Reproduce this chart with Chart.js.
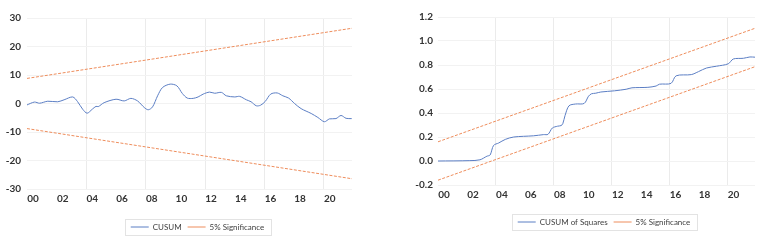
<!DOCTYPE html>
<html>
<head>
<meta charset="utf-8">
<script src="https://cdn.jsdelivr.net/npm/chart.js@4.4.1/dist/chart.umd.min.js"></script>
<style>
  body { margin: 0; background: #fff; }
  .box { position: absolute; top: 0; width: 380px; height: 244px; }
</style>
</head>
<body>
<div class="box" style="left:0"><canvas id="cusum" width="380" height="244"></canvas></div>
<div class="box" style="left:380px"><canvas id="cusumsq" width="380" height="244"></canvas></div>
<script>
// x axis: years, labelled every 2 years as "00", "02", ...
var firstYear = 2000;
var lastYear = 2021.9;
var yearStep = 2;

// CUSUM (left)
var cusumYears = [2000.0, 2000.5, 2000.85, 2001.4, 2002.07, 2002.5, 2003.08, 2003.4, 2003.75, 2004.05,
  2004.4, 2004.65, 2004.8, 2005.2, 2006.0, 2006.55, 2007.0, 2007.45, 2007.9, 2008.17,
  2008.46, 2008.8, 2009.13, 2009.65, 2010.1, 2010.47, 2010.8, 2011.2, 2011.53, 2011.87,
  2012.3, 2012.65, 2013.1, 2013.43, 2014.0, 2014.33, 2014.78, 2015.1, 2015.45, 2015.74,
  2016.05, 2016.42, 2016.86, 2017.24, 2017.63, 2018.03, 2018.47, 2019.15, 2019.6, 2020.04,
  2020.38, 2020.82, 2021.16, 2021.5, 2021.88];
var cusumValues = [-0.5, 0.5, 0.1, 0.8, 0.6, 1.3, 2.3, 0.7, -2.0, -3.4,
  -2.0, -1.0, -1.1, 0.3, 1.5, 0.9, 1.8, 0.9, -1.4, -2.2,
  -1.2, 2.7, 5.6, 6.8, 6.2, 3.5, 1.9, 1.8, 2.3, 3.3,
  4.0, 3.6, 3.9, 2.7, 2.3, 2.5, 1.3, 0.6, -0.8, -0.6,
  0.7, 3.3, 3.7, 2.7, 1.9, 0.0, -1.8, -3.5, -4.9, -6.4,
  -5.4, -5.3, -4.2, -5.2, -5.3];
var cusumBoundYears = [2000, 2021.9];
var cusumUpper = [8.8, 26.4];
var cusumLower = [-8.8, -26.4];
var cusumTicks = [-30, 30, 10];

// CUSUM of squares (right)
var sqYears = [2000.0, 2002.2, 2002.9, 2003.38, 2003.6, 2003.84, 2004.19, 2004.65, 2005.23, 2006.6,
  2007.3, 2007.6, 2007.9, 2008.26, 2008.5, 2008.62, 2008.78, 2009.05, 2009.5, 2010.1,
  2010.4, 2010.6, 2010.9, 2011.25, 2012.2, 2013.0, 2013.4, 2014.5, 2015.07, 2015.3,
  2016.1, 2016.45, 2017.5, 2018.0, 2018.55, 2019.25, 2020.05, 2020.4, 2021.1, 2021.55, 2021.9];
var sqValues = [0.0, 0.003, 0.01, 0.04, 0.05, 0.13, 0.15, 0.18, 0.2, 0.21,
  0.22, 0.222, 0.275, 0.29, 0.295, 0.31, 0.38, 0.46, 0.475, 0.48,
  0.54, 0.56, 0.565, 0.575, 0.585, 0.598, 0.61, 0.614, 0.625, 0.64,
  0.647, 0.71, 0.72, 0.745, 0.775, 0.79, 0.81, 0.85, 0.856, 0.867, 0.865];
var sqBoundYears = [2000, 2021.9];
var sqUpper = [0.16, 1.106];
var sqLower = [-0.16, 0.786];
var sqTicks = [-0.2, 1.2, 0.2];

var blue = '#5b7ec4';
var orange = '#ee8d5c';
var font = "Lato, 'Liberation Sans', sans-serif";

function points(xs, ys) {
  return xs.map(function (x, i) { return {x: x, y: ys[i]}; });
}

// shifts the legend sideways and draws the thin frame around it
var legendFrame = {
  id: 'legendFrame',
  afterLayout: function (chart, args, opts) {
    chart.legend.left += opts.shift;
    chart.legend.right += opts.shift;
  },
  afterDraw: function (chart) {
    var lg = chart.legend;
    var p = lg.options.labels.padding;
    var rowW = lg.lineWidths[0] - p;
    var cx = (lg.left + lg.right) / 2;
    var cy = lg.top + p + lg.options.labels.font.size / 2;
    var ctx = chart.ctx;
    ctx.save();
    ctx.strokeStyle = '#e3e3e3';
    ctx.lineWidth = 1;
    ctx.strokeRect(Math.round(cx - rowW / 2 - 6) + 0.5, Math.round(cy - 8) + 0.5, Math.round(rowW + 12), 16);
    ctx.restore();
  }
};

function makeChart(id, name, xs, ys, bx, up, lo, ticks, opt) {
  var ctx = document.getElementById(id);
  return new Chart(ctx, {
    type: 'line',
    data: {
      datasets: [
        { label: name, data: points(xs, ys), borderColor: blue, borderWidth: 1, tension: 0.3 },
        { label: '5% Significance', data: points(bx, up), borderColor: orange, borderWidth: 1, borderDash: [3, 1.5] },
        { label: '5% Significance', data: points(bx, lo), borderColor: orange, borderWidth: 1, borderDash: [3, 1.5] }
      ]
    },
    options: {
      responsive: false,
      animation: false,
      elements: { point: { radius: 0 } },
      layout: { padding: opt.padding },
      plugins: {
        tooltip: { enabled: false },
        legendFrame: { shift: opt.shift },
        legend: {
          position: 'bottom',
          labels: {
            font: { family: font, size: 8 },
            color: '#404040',
            padding: 6,
            usePointStyle: true,
            pointStyle: 'line',
            pointStyleWidth: 18,
            filter: function (item) { return item.datasetIndex < 2; }
          }
        }
      },
      scales: {
        x: {
          type: 'linear',
          min: firstYear,
          max: lastYear,
          border: { display: false },
          grid: {
            drawTicks: false,
            color: function (c) {
              var v = c.tick ? c.tick.value : 0;
              return (v % 4 === 0 && v !== firstYear) ? '#ebebeb' : 'rgba(0,0,0,0)';
            }
          },
          ticks: {
            stepSize: yearStep,
            includeBounds: false,
            maxRotation: 0,
            autoSkip: false,
            padding: 4,
            labelOffset: 6,
            font: { family: font, size: 10, weight: 'bold' },
            color: '#333333',
            callback: function (v) { return String(Math.round(v) % 100).padStart(2, '0'); }
          },
          afterFit: function (s) { s.height = opt.xHeight; }
        },
        y: {
          min: ticks[0],
          max: ticks[1],
          border: { display: false },
          grid: { drawTicks: false, color: '#f2f2f2' },
          ticks: {
            stepSize: ticks[2],
            padding: opt.yPad,
            font: { family: font, size: 10, weight: 'bold' },
            color: '#333333',
            callback: function (v) {
              if (Math.abs(v) < 1e-9) v = 0;
              return opt.decimals ? v.toFixed(opt.decimals) : String(Math.round(v));
            }
          },
          afterFit: function (s) { s.width = opt.yWidth; }
        }
      }
    },
    plugins: [legendFrame]
  });
}

makeChart('cusum', 'CUSUM', cusumYears, cusumValues, cusumBoundYears, cusumUpper, cusumLower, cusumTicks,
  { padding: {left: 0, right: 28, top: 18, bottom: 3}, xHeight: 28, yWidth: 27, yPad: 6, decimals: 0, shift: 21.5 });
makeChart('cusumsq', 'CUSUM of Squares', sqYears, sqValues, sqBoundYears, sqUpper, sqLower, sqTicks,
  { padding: {left: 0, right: 5, top: 17, bottom: 8}, xHeight: 27, yWidth: 58, yPad: 5, decimals: 1, shift: 36.5 });
</script>
</body>
</html>
